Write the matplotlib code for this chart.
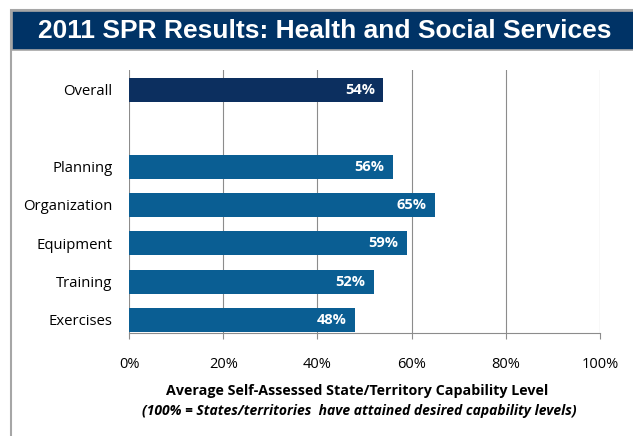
import matplotlib.pyplot as plt
from matplotlib.patches import Rectangle

categories = ['Overall', '', 'Planning', 'Organization', 'Equipment', 'Training', 'Exercises']
values = [54, None, 56, 65, 59, 52, 48]
bar_colors = ['#0c2f5f', None, '#0a5e93', '#0a5e93', '#0a5e93', '#0a5e93', '#0a5e93']
xticks = [0, 20, 40, 60, 80, 100]
title = '2011 SPR Results: Health and Social Services'
xlabel_main = 'Average Self-Assessed State/Territory Capability Level'
xlabel_note = '(100% = States/territories  have attained desired capability levels)'

font = 'Open Sans'

fig = plt.figure(figsize=(6.33, 4.36), dpi=100)
W, H = 633, 436

# slide frame (runs off the right and bottom edges) and title bar
fig.add_artist(Rectangle((11 / W, -0.1), 1.2, 1.1 - 10 / H, transform=fig.transFigure,
                         facecolor='none', edgecolor='#a6a6a6', lw=1.5))
fig.add_artist(Rectangle((12 / W, 1 - 50 / H), 1.2, 39 / H, transform=fig.transFigure,
                         facecolor='#003366', edgecolor='#a6a6a6', lw=1.2))
fig.text(325 / W, 1 - 31 / H, title, color='white', fontsize=19, fontweight='bold',
         family='Liberation Sans', ha='center', va='center')

ax = fig.add_axes([129 / W, 1 - 333 / H, 471 / W, 263 / H])
n = len(categories)
ypos = [n - 1 - i for i in range(n)]
for y, v, c in zip(ypos, values, bar_colors):
    if v is None:
        continue
    ax.barh(y, v, height=0.63, color=c, zorder=3)
    ax.text(v - 1.8, y, f'{v}%', color='white', fontsize=10.5, fontweight='bold',
            family=font, ha='right', va='center', zorder=4)

ax.set_xlim(0, 100)
ax.set_ylim(-0.34, 6.52)
ax.set_yticks(ypos)
ax.set_yticklabels(categories, family=font, fontsize=10.7)
ax.set_xticks(xticks)
ax.set_xticklabels([f'{t}%' for t in xticks], family=font, fontsize=10.5)
ax.tick_params(axis='y', length=0, pad=12)
ax.tick_params(axis='x', length=4, color='#8c8c8c', pad=13)
ax.grid(axis='x', color='#8c8c8c', lw=0.8, zorder=0)
for s in ['top', 'right', 'left']:
    ax.spines[s].set_visible(False)
ax.spines['bottom'].set_color('#8c8c8c')
ax.spines['bottom'].set_linewidth(0.8)

fig.text(357 / W, 1 - 391 / H, xlabel_main, family=font, fontsize=10.3,
         fontweight='bold', ha='center', va='center')
fig.text(359 / W, 1 - 411 / H, xlabel_note, family=font, fontsize=10,
         fontweight='bold', style='italic', ha='center', va='center')

fig.savefig('out.png', dpi=100)
